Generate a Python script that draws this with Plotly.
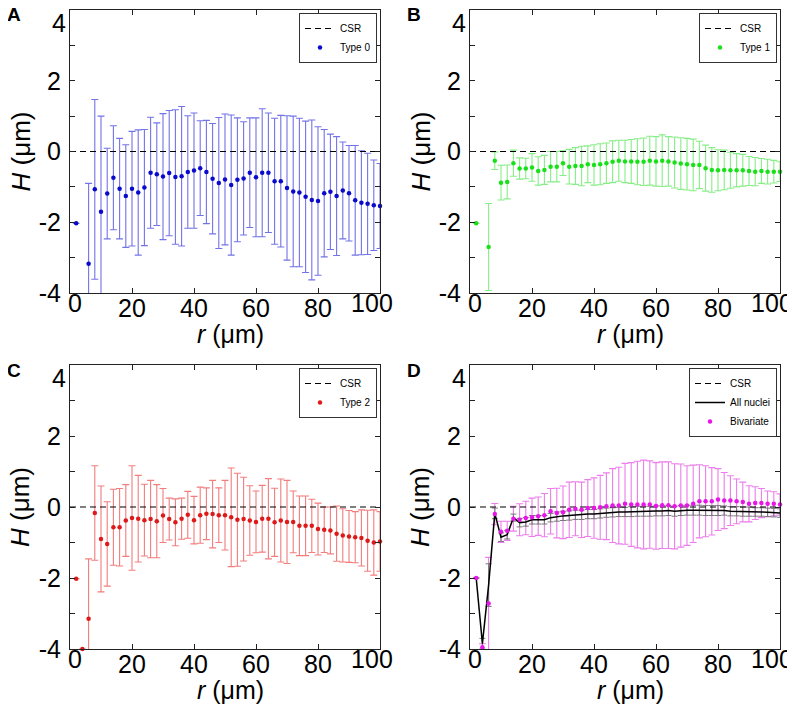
import plotly.graph_objects as go

FONT = "Arial, Liberation Sans, sans-serif"

# ---------------- data ----------------
r = list(range(2, 101, 2))
csr_x = [0, 100]
csr_y = [0, 0]

type0_mean = [-2.03, -4.05, -3.17, -1.07, -1.70, -1.19, -0.74, -1.05, -1.26, -1.05,
              -1.16, -1.02, -0.60, -0.64, -0.71, -0.61, -0.72, -0.70, -0.58, -0.54,
              -0.47, -0.58, -0.77, -0.89, -0.79, -0.95, -0.80, -0.76, -0.60, -0.73,
              -0.60, -0.60, -0.84, -0.84, -1.03, -1.13, -1.16, -1.28, -1.37, -1.40,
              -1.18, -1.14, -1.26, -1.10, -1.18, -1.38, -1.45, -1.48, -1.52, -1.54]
type0_err = [0.0, 0.0, 2.27, 2.54, 2.70, 1.28, 1.47, 1.42, 1.45, 1.62,
             1.77, 1.64, 1.57, 1.45, 1.78, 1.77, 1.90, 1.97, 1.59, 1.63,
             1.34, 1.46, 1.56, 1.85, 1.85, 1.98, 1.75, 1.60, 1.55, 1.68,
             1.81, 1.69, 1.78, 1.86, 2.04, 2.13, 2.10, 2.14, 2.26, 2.10,
             1.80, 1.63, 1.68, 1.37, 1.35, 1.55, 1.47, 1.43, 1.28, 1.20]

type1_mean = [-2.03, -4.05, -2.70, -0.26, -0.88, -0.86, -0.33, -0.48, -0.48, -0.45,
              -0.55, -0.52, -0.43, -0.43, -0.33, -0.43, -0.41, -0.41, -0.36, -0.38,
              -0.36, -0.33, -0.29, -0.26, -0.28, -0.28, -0.29, -0.29, -0.26, -0.28,
              -0.26, -0.28, -0.31, -0.34, -0.36, -0.38, -0.38, -0.47, -0.52, -0.53,
              -0.52, -0.53, -0.53, -0.53, -0.55, -0.57, -0.55, -0.57, -0.57, -0.57]
type1_err = [0.0, 0.0, 1.23, 0.25, 0.49, 0.48, 0.37, 0.30, 0.29, 0.39,
             0.40, 0.41, 0.43, 0.43, 0.35, 0.49, 0.52, 0.56, 0.52, 0.57,
             0.58, 0.57, 0.59, 0.58, 0.60, 0.62, 0.65, 0.67, 0.69, 0.70,
             0.73, 0.70, 0.72, 0.73, 0.73, 0.73, 0.67, 0.65, 0.63, 0.58,
             0.56, 0.51, 0.47, 0.45, 0.41, 0.40, 0.35, 0.35, 0.32, 0.28]

type2_mean = [-2.02, -4.00, -3.15, -0.17, -0.90, -1.04, -0.57, -0.57, -0.38, -0.31,
              -0.33, -0.37, -0.34, -0.40, -0.24, -0.34, -0.43, -0.33, -0.22, -0.37,
              -0.23, -0.19, -0.20, -0.23, -0.23, -0.29, -0.36, -0.34, -0.38, -0.42,
              -0.33, -0.33, -0.43, -0.38, -0.42, -0.42, -0.53, -0.53, -0.53, -0.62,
              -0.64, -0.66, -0.75, -0.80, -0.83, -0.85, -0.87, -0.95, -1.00, -0.97]
type2_err = [0.0, 0.0, 1.69, 1.33, 1.49, 1.19, 1.07, 1.09, 1.01, 1.47,
             1.22, 1.01, 1.09, 1.03, 0.76, 0.59, 0.66, 0.58, 0.66, 0.67,
             0.79, 0.73, 0.95, 0.77, 0.98, 1.39, 1.31, 1.18, 0.98, 0.87,
             0.94, 1.13, 0.96, 1.17, 1.17, 0.87, 0.84, 0.84, 0.75, 0.73,
             0.64, 0.66, 0.78, 0.75, 0.73, 0.72, 0.79, 0.86, 0.92, 0.84]

biv_mean = [-2.00, -3.95, -2.72, -0.20, -0.70, -0.67, -0.33, -0.36, -0.31, -0.29,
            -0.26, -0.23, -0.12, -0.17, -0.15, -0.08, -0.05, -0.08, -0.03, -0.03,
            -0.01, 0.02, 0.04, 0.04, 0.09, 0.07, 0.07, 0.07, 0.07, 0.03,
            0.05, 0.05, 0.02, 0.04, 0.04, 0.09, 0.16, 0.16, 0.16, 0.21,
            0.18, 0.18, 0.16, 0.14, 0.09, 0.11, 0.11, 0.09, 0.09, 0.07]
biv_err = [0.0, 0.10, 1.30, 0.30, 0.30, 0.27, 0.35, 0.45, 0.47, 0.54,
           0.54, 0.61, 0.64, 0.70, 0.74, 0.78, 0.76, 0.78, 0.80, 0.85,
           0.90, 0.94, 1.04, 1.08, 1.14, 1.18, 1.22, 1.25, 1.23, 1.22,
           1.22, 1.22, 1.20, 1.17, 1.12, 1.09, 1.03, 1.00, 0.95, 0.87,
           0.79, 0.70, 0.63, 0.56, 0.51, 0.46, 0.41, 0.36, 0.34, 0.30]

all_mean = [-2.00, -3.85, -2.20, -0.18, -0.85, -0.78, -0.30, -0.44, -0.42, -0.36,
            -0.36, -0.36, -0.30, -0.27, -0.25, -0.24, -0.22, -0.22, -0.20, -0.20,
            -0.18, -0.16, -0.15, -0.14, -0.14, -0.13, -0.12, -0.12, -0.12, -0.11,
            -0.11, -0.10, -0.12, -0.10, -0.09, -0.09, -0.09, -0.10, -0.10, -0.10,
            -0.10, -0.12, -0.12, -0.13, -0.13, -0.14, -0.14, -0.15, -0.16, -0.17]
all_err = [0.0, 0.15, 0.60, 0.15, 0.12, 0.12, 0.10, 0.12, 0.12, 0.12,
           0.12, 0.12, 0.12, 0.13, 0.13, 0.13, 0.13, 0.13, 0.13, 0.13,
           0.13, 0.13, 0.13, 0.13, 0.13, 0.14, 0.14, 0.14, 0.14, 0.14,
           0.14, 0.14, 0.14, 0.14, 0.14, 0.14, 0.14, 0.14, 0.14, 0.14,
           0.13, 0.13, 0.13, 0.13, 0.13, 0.12, 0.12, 0.12, 0.12, 0.12]

x_ticks = [0, 20, 40, 60, 80, 100]
x_ticktext = ["", "20", "40", "60", "80", ""]
# edge labels are nudged inward, as in the original figure
x_edge_label_pos = [1.6, 97.4]
x_edge_label_text = ["0", "100"]
y_ticks = [-4, -3, -2, -1, 0, 1, 2, 3, 4]
y_ticktext = ["-4", "", "-2", "", "0", "", "2", "", ""]
y_top_label_pos = [3.63]
y_top_label_text = ["4"]

panels = [
    dict(letter="A", mean=type0_mean, err=type0_err, name="Type 0",
         pt="rgb(10,10,205)", bar="rgb(115,115,232)"),
    dict(letter="B", mean=type1_mean, err=type1_err, name="Type 1",
         pt="rgb(25,225,25)", bar="rgb(135,238,135)"),
    dict(letter="C", mean=type2_mean, err=type2_err, name="Type 2",
         pt="rgb(222,25,25)", bar="rgb(242,125,125)"),
    dict(letter="D", mean=biv_mean, err=biv_err, name="Bivariate",
         pt="rgb(232,20,232)", bar="rgb(236,125,236)"),
]

# ---------------- layout geometry (screen pixels) ----------------
W, H = 795, 704
OFF = 8  # page body margin that offsets the figure on screen
cols = [(70, 380), (470, 780)]
rows = [(10, 293), (365, 649)]


def px(x):
    return (x - OFF) / W


def py(y):
    return 1 - (y - OFF) / H


fig = go.Figure()
layout = dict(width=W, height=H, margin=dict(l=0, r=0, t=0, b=0),
              paper_bgcolor="white", plot_bgcolor="white",
              font=dict(family=FONT, color="black"), annotations=[])

tickfont = dict(size=25, family=FONT, color="black")

for i, p in enumerate(panels):
    n = i + 1
    cx = cols[i % 2]
    ry = rows[i // 2]
    xa = "x" if n == 1 else f"x{n}"
    ya = "y" if n == 1 else f"y{n}"
    xo = f"x{n + 4}"
    yo = f"y{n + 4}"
    lg = "legend" if n == 1 else f"legend{n}"
    xdom = [px(cx[0]), px(cx[1])]
    ydom = [py(ry[1]), py(ry[0])]

    axis_common = dict(showline=True, linecolor="#222", linewidth=1, mirror="ticks",
                       ticks="inside", ticklen=5, tickcolor="#222", showgrid=False,
                       zeroline=False, automargin=False, ticklabeloverflow="allow",
                       tickfont=tickfont)
    label_only = dict(ticks="", showline=False, showgrid=False, zeroline=False,
                      automargin=False, ticklabeloverflow="allow", tickfont=tickfont)
    layout["xaxis" if n == 1 else f"xaxis{n}"] = dict(
        domain=xdom, range=[0, 100], anchor=ya,
        tickvals=x_ticks, ticktext=x_ticktext, ticklabelstandoff=-7, **axis_common)
    layout["yaxis" if n == 1 else f"yaxis{n}"] = dict(
        domain=ydom, range=[-4, 4], anchor=xa,
        tickvals=y_ticks, ticktext=y_ticktext, ticklabelstandoff=3, **axis_common)
    # overlay axes carrying only the nudged edge labels
    layout[f"xaxis{n + 4}"] = dict(
        domain=xdom, range=[0, 100], anchor=ya, overlaying=xa, side="bottom",
        tickvals=x_edge_label_pos, ticktext=x_edge_label_text, ticklabelstandoff=-7,
        **label_only)
    layout[f"yaxis{n + 4}"] = dict(
        domain=ydom, range=[-4, 4], anchor=xa, overlaying=ya, side="left",
        tickvals=y_top_label_pos, ticktext=y_top_label_text, ticklabelstandoff=3,
        **label_only)
    fig.add_trace(go.Scatter(x=[None], y=[None], xaxis=xo, yaxis=ya,
                             mode="markers", showlegend=False, hoverinfo="skip"))
    fig.add_trace(go.Scatter(x=[None], y=[None], xaxis=xa, yaxis=yo,
                             mode="markers", showlegend=False, hoverinfo="skip"))

    # error bars (clipped to the axes)
    fig.add_trace(go.Scatter(
        x=r, y=p["mean"], mode="markers", xaxis=xa, yaxis=ya, legend=lg,
        marker=dict(size=2, color="rgba(0,0,0,0)"), showlegend=False, hoverinfo="skip",
        error_y=dict(type="data", array=p["err"], color=p["bar"], thickness=1.1, width=3.5)))

    if p["letter"] == "D":
        fig.add_trace(go.Scatter(
            x=r, y=all_mean, mode="lines", xaxis=xa, yaxis=ya, legend=lg,
            name="All nuclei", legendrank=2,
            line=dict(color="black", width=1.5),
            error_y=dict(type="data", array=all_err, color="rgb(120,120,120)",
                         thickness=1, width=3)))

    fig.add_trace(go.Scatter(
        x=csr_x, y=csr_y, mode="lines", xaxis=xa, yaxis=ya, legend=lg,
        name="CSR", legendrank=1, line=dict(color="black", width=1.2, dash="6px,4px")))

    fig.add_trace(go.Scatter(
        x=r, y=p["mean"], mode="markers", xaxis=xa, yaxis=ya, legend=lg,
        name=p["name"], legendrank=3, cliponaxis=False,
        marker=dict(size=4.5, color=p["pt"])))

    layout[lg] = dict(x=px(cx[1] - 3), y=py(ry[0] + 3), xanchor="right", yanchor="top",
                      xref="paper", yref="paper",
                      bgcolor="white", bordercolor="#333", borderwidth=1,
                      font=dict(size=10, family=FONT, color="black"),
                      itemwidth=30, tracegroupgap=0, traceorder="normal")

    xc = (cx[0] + cx[1]) / 2
    yc = (ry[0] + ry[1]) / 2
    # panel letter
    layout["annotations"].append(dict(
        text=f"<b>{p['letter']}</b>", x=px(cx[0] - 56), y=py(ry[0] + 5),
        xref="paper", yref="paper", showarrow=False, xanchor="center", yanchor="middle",
        font=dict(size=19, family=FONT, color="black")))
    # y title
    layout["annotations"].append(dict(
        text="<i>H</i> (μm)", x=px(cx[0] - 50), y=py(yc), textangle=-90,
        xref="paper", yref="paper", showarrow=False, xanchor="center", yanchor="middle",
        font=dict(size=26, family=FONT, color="black")))
    # x title
    layout["annotations"].append(dict(
        text="<i>r</i> (μm)", x=px(xc + 5), y=py(ry[1] + 41),
        xref="paper", yref="paper", showarrow=False, xanchor="center", yanchor="middle",
        font=dict(size=25, family=FONT, color="black")))

fig.update_layout(**layout)
fig.write_html("out.html")
